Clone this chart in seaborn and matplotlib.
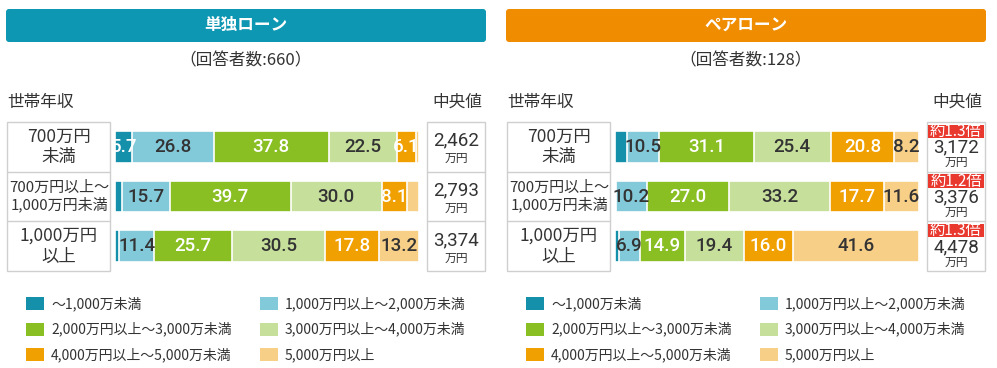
import numpy as np
import pandas as pd
import matplotlib.pyplot as plt
from matplotlib.patches import FancyBboxPatch, Rectangle
import seaborn as sns

# ---- data ----
income_rows = ["700万円\n未満", "700万円以上～\n1,000万円未満", "1,000万円\n以上"]
buckets = ["～1,000万未満", "1,000万円以上～2,000万未満",
           "2,000万円以上～3,000万未満", "3,000万円以上～4,000万未満",
           "4,000万円以上～5,000万未満", "5,000万円以上"]

single_vals = [
    [5.7, 26.8, 37.8, 22.5, 6.1, 1.1],
    [2.4, 15.7, 39.7, 30.0, 8.1, 4.1],
    [1.4, 11.4, 25.7, 30.5, 17.8, 13.2],
]
pair_vals = [
    [4.0, 10.5, 31.1, 25.4, 20.8, 8.2],
    [0.3, 10.2, 27.0, 33.2, 17.7, 11.6],
    [1.2, 6.9, 14.9, 19.4, 16.0, 41.6],
]
single_median = ["2,462", "2,793", "3,374"]
pair_median = ["3,172", "3,376", "4,478"]
pair_ratio = ["約1.3倍", "約1.2倍", "約1.3倍"]
single_n = 660
pair_n = 128

colors = ["#1590ab", "#82c9da", "#8abf24", "#c6e09c", "#f0a000", "#f7cf87"]
label_dark = [False, True, False, True, False, True]
TXT = "#333333"
NUM_FONT = ['Roboto', 'DejaVu Sans']

sns.set_theme(style="white")
plt.rcParams['font.family'] = ['Noto Sans CJK JP', 'DejaVu Sans']

W, H = 997, 368
fig = plt.figure(figsize=(W / 100, H / 100), dpi=100)
bg = fig.add_axes([0, 0, 1, 1])
bg.set_xlim(0, W)
bg.set_ylim(H, 0)
bg.axis("off")


def draw_panel(x0, title, head_color, n, vals, medians, ratios=None):
    # header
    bg.add_patch(FancyBboxPatch((x0, 9), 480, 33,
                                boxstyle="round,pad=0,rounding_size=3",
                                fc=head_color, ec="none"))
    bg.text(x0 + 240, 25, title, color="white", fontsize=12,
            fontweight="bold", ha="center", va="center")
    bg.text(x0 + 240, 61, f"（回答者数:{n}）", color=TXT, fontsize=12,
            ha="center", va="center")
    bg.text(x0 + 1, 102, "世帯年収", color=TXT, fontsize=12, ha="left", va="center")
    bg.text(x0 + 451, 102, "中央値", color=TXT, fontsize=12, ha="center", va="center")

    top, bot = 122, 271
    rh = (bot - top) / 3
    # label box and median box
    for bx, bw in [(x0 + 1, 103), (x0 + 421, 58)]:
        bg.add_patch(Rectangle((bx, top), bw, bot - top, fc="white",
                               ec="#cfcfcf", lw=1))
        for i in (1, 2):
            bg.plot([bx, bx + bw], [top + rh * i] * 2, color="#cfcfcf", lw=1)
    for i, lab in enumerate(income_rows):
        cy = top + rh * (i + 0.5)
        bg.text(x0 + 53, cy, lab, color=TXT, fontsize=10.8 if i == 1 else 12.5,
                ha="center", va="center", linespacing=1.2)
        mx = x0 + 450
        if ratios is None:
            bg.text(mx, cy - 6, medians[i], color=TXT, fontsize=13.5,
                    family=NUM_FONT, ha="center", va="center")
            bg.text(mx, cy + 12, "万円", color=TXT, fontsize=8.5,
                    ha="center", va="center")
        else:
            by = top + rh * i + 2.5
            bg.add_patch(Rectangle((x0 + 422, by), 56, 13.5, fc="#e9392f", ec="none"))
            bg.text(mx, by + 7, ratios[i], color="white", fontsize=11,
                    ha="center", va="center")
            bg.text(mx, cy + 1, medians[i], color=TXT, fontsize=13.5,
                    family=NUM_FONT, ha="center", va="center")
            bg.text(mx, cy + 16, "万円", color=TXT, fontsize=8.5,
                    ha="center", va="center")

    # stacked bars (overlay cumulative sums, largest first)
    ax = fig.add_axes([(x0 + 109) / W, (H - bot) / H, 304 / W, (bot - top) / H])
    arr = np.array(vals)
    cum = arr.cumsum(axis=1)
    cats = [f"r{i}" for i in range(3)]
    for k in range(5, -1, -1):
        df = pd.DataFrame({"row": cats, "val": cum[:, k]})
        sns.barplot(data=df, x="val", y="row", orient="h", color=colors[k],
                    saturation=1, width=0.64, edgecolor="white", linewidth=1.2,
                    ax=ax)
    for i in range(3):
        for k in range(6):
            v = arr[i, k]
            if v < 5:
                continue
            cx = cum[i, k] - v / 2
            ax.text(cx, i, f"{v:.1f}", ha="center", va="center", fontsize=13.5,
                    family=NUM_FONT, fontweight="medium",
                    color=TXT if label_dark[k] else "white")
    ax.set_xlim(0, 100)
    ax.set_ylim(2.5, -0.5)
    ax.axis("off")

    # legend
    for j, name in enumerate(buckets):
        col, row = j % 2, j // 2
        lx = x0 + 20 + col * 234
        ly = 303.5 + row * 25.5
        bg.add_patch(Rectangle((lx, ly - 6.5), 18, 13, fc=colors[j], ec="none"))
        bg.text(lx + 25, ly, name, color=TXT, fontsize=10, ha="left", va="center")


draw_panel(6, "単独ローン", "#0e97b2", single_n, single_vals, single_median)
draw_panel(506, "ペアローン", "#ef8c00", pair_n, pair_vals, pair_median, pair_ratio)

fig.savefig("out.png", dpi=100)
